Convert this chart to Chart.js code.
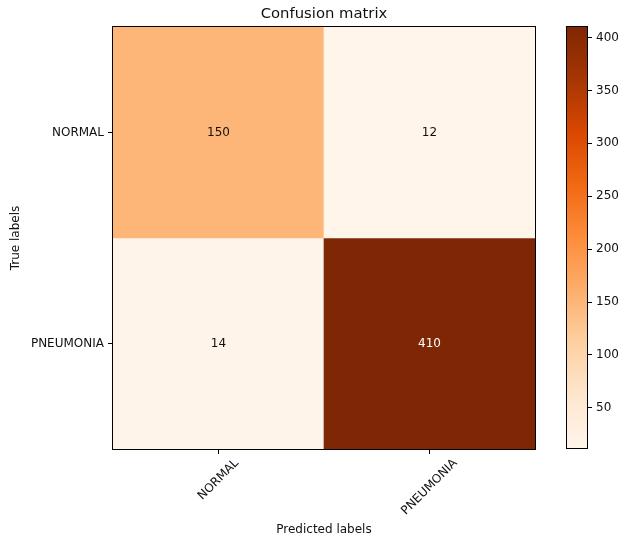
<!DOCTYPE html>
<html>
<head>
<meta charset="utf-8">
<script src="https://cdn.jsdelivr.net/npm/chart.js@4.4.0/dist/chart.umd.min.js"></script>
<style>
  html, body { margin: 0; padding: 0; background: #fff; overflow: hidden; }
  #wrap { position: relative; width: 620px; height: 539px; }
  #matrix { position: absolute; left: 0; top: 0; }
  #cbar { position: absolute; left: 560px; top: 0; }
</style>
</head>
<body>
<div id="wrap">
  <canvas id="matrix" width="560" height="539"></canvas>
  <canvas id="cbar" width="60" height="539"></canvas>
</div>
<script>
// confusion matrix data
const classLabels = ["NORMAL", "PNEUMONIA"];
const rowNormal = [150, 12];
const rowPneumonia = [14, 410];
const colorbarTicks = [50, 100, 150, 200, 250, 300, 350, 400];
const vmin = 12;
const vmax = 410;

// matplotlib "Oranges"
const oranges = ["#fff5eb", "#fee6ce", "#fdd0a2", "#fdae6b", "#fd8d3c",
                 "#f16913", "#d94801", "#a63603", "#7f2704"];

const FONT = "'DejaVu Sans', sans-serif";
const TEXT = "#111";

function hexToRgb(h) {
  return [parseInt(h.slice(1, 3), 16), parseInt(h.slice(3, 5), 16), parseInt(h.slice(5, 7), 16)];
}

function orangeAt(t) {
  t = Math.max(0, Math.min(1, t));
  const pos = t * (oranges.length - 1);
  const i = Math.min(Math.floor(pos), oranges.length - 2);
  const f = pos - i;
  const a = hexToRgb(oranges[i]), b = hexToRgb(oranges[i + 1]);
  const c = a.map((v, k) => Math.round(v + (b[k] - v) * f));
  return `rgb(${c[0]},${c[1]},${c[2]})`;
}

const rows = [rowNormal, rowPneumonia];

// frame around plot area
const frame = {
  id: 'frame',
  afterDatasetsDraw(chart) {
    const { ctx, chartArea: a } = chart;
    ctx.save();
    ctx.strokeStyle = '#000';
    ctx.lineWidth = 1;
    ctx.strokeRect(Math.round(a.left) - 0.5, Math.round(a.top) - 0.5,
                   Math.round(a.right - a.left) + 1, Math.round(a.bottom - a.top) + 1);
    ctx.restore();
  }
};

// cell values + rotated x labels
const matrixText = {
  id: 'matrixText',
  afterDatasetsDraw(chart) {
    const { ctx, scales: { x, y } } = chart;
    const thresh = (vmax + vmin) / 2;
    ctx.save();
    ctx.font = `12px ${FONT}`;
    ctx.textAlign = 'center';
    ctx.textBaseline = 'middle';
    rows.forEach((vals, r) => {
      vals.forEach((v, c) => {
        ctx.fillStyle = v > thresh ? '#fff' : TEXT;
        ctx.fillText(String(v), x.getPixelForValue(c), y.getPixelForValue(r));
      });
    });
    ctx.restore();
  },
  afterDraw(chart) {
    const { ctx, scales: { x } } = chart;
    ctx.save();
    ctx.font = `12px ${FONT}`;
    ctx.fillStyle = TEXT;
    ctx.textAlign = 'center';
    ctx.textBaseline = 'middle';
    const s = Math.SQRT1_2;
    classLabels.forEach((lab, i) => {
      const w = ctx.measureText(lab).width;
      const bboxH = (w + 12) * s;
      const cx = x.getPixelForValue(i);
      const cy = x.top + 5 + 3 + bboxH / 2;
      ctx.save();
      ctx.translate(cx, cy);
      ctx.rotate(-Math.PI / 4);
      ctx.fillText(lab, 0, 0);
      ctx.restore();
    });
    ctx.restore();
  }
};

new Chart(document.getElementById('matrix'), {
  type: 'bar',
  data: {
    labels: classLabels,
    datasets: rows.map((vals, r) => ({
      data: vals.map(() => [r - 0.5, r + 0.5]),
      backgroundColor: vals.map(v => orangeAt((v - vmin) / (vmax - vmin))),
      grouped: false,
      barPercentage: 1,
      categoryPercentage: 1,
      borderWidth: 0
    }))
  },
  options: {
    responsive: false,
    animation: false,
    layout: { padding: { left: 0, right: 25, top: 0, bottom: 0 } },
    plugins: {
      legend: { display: false },
      tooltip: { enabled: false },
      title: {
        display: true,
        text: 'Confusion matrix',
        fullSize: false,
        color: TEXT,
        font: { family: FONT, size: 14.8, weight: 'normal' },
        padding: { top: 5, bottom: 4.2 }
      }
    },
    scales: {
      x: {
        type: 'category',
        offset: true,
        grid: { offset: false, drawOnChartArea: false, tickLength: 5, tickColor: '#000' },
        border: { color: '#000' },
        ticks: { display: false },
        title: {
          display: true, text: 'Predicted labels', color: TEXT,
          font: { family: FONT, size: 12 }, padding: { top: 0, bottom: 2 }
        },
        afterFit: s => { s.height = 90; }
      },
      y: {
        type: 'linear',
        min: -0.5,
        max: 1.5,
        reverse: true,
        afterBuildTicks: s => { s.ticks = classLabels.map((_, i) => ({ value: i })); },
        ticks: { callback: v => classLabels[v], color: TEXT, font: { family: FONT, size: 12 }, padding: 4 },
        grid: { drawOnChartArea: false, tickLength: 5, tickColor: '#000' },
        border: { color: '#000' },
        title: {
          display: true, text: 'True labels', color: TEXT,
          font: { family: FONT, size: 12 }, padding: { top: 9, bottom: 0 }
        },
        afterFit: s => { s.width = 113; }
      }
    }
  },
  plugins: [matrixText, frame]
});

// colorbar
new Chart(document.getElementById('cbar'), {
  type: 'bar',
  data: {
    labels: [''],
    datasets: [{
      data: [[vmin, vmax]],
      backgroundColor: (c) => {
        const a = c.chart.chartArea;
        if (!a) return oranges[0];
        const g = c.chart.ctx.createLinearGradient(0, a.bottom, 0, a.top);
        oranges.forEach((col, i) => g.addColorStop(i / (oranges.length - 1), col));
        return g;
      },
      barPercentage: 1,
      categoryPercentage: 1,
      borderWidth: 0
    }]
  },
  options: {
    responsive: false,
    animation: false,
    layout: { padding: { left: 7, right: 0, top: 27, bottom: 91 } },
    plugins: { legend: { display: false }, tooltip: { enabled: false } },
    scales: {
      x: { display: false },
      y: {
        position: 'right',
        min: vmin,
        max: vmax,
        afterBuildTicks: s => { s.ticks = colorbarTicks.map(v => ({ value: v })); },
        grid: { drawOnChartArea: false, tickLength: 5, tickColor: '#000' },
        border: { display: false },
        ticks: { color: TEXT, font: { family: FONT, size: 12 }, padding: 4 },
        afterFit: s => { s.width = 33; }
      }
    }
  },
  plugins: [frame]
});
</script>
</body>
</html>
